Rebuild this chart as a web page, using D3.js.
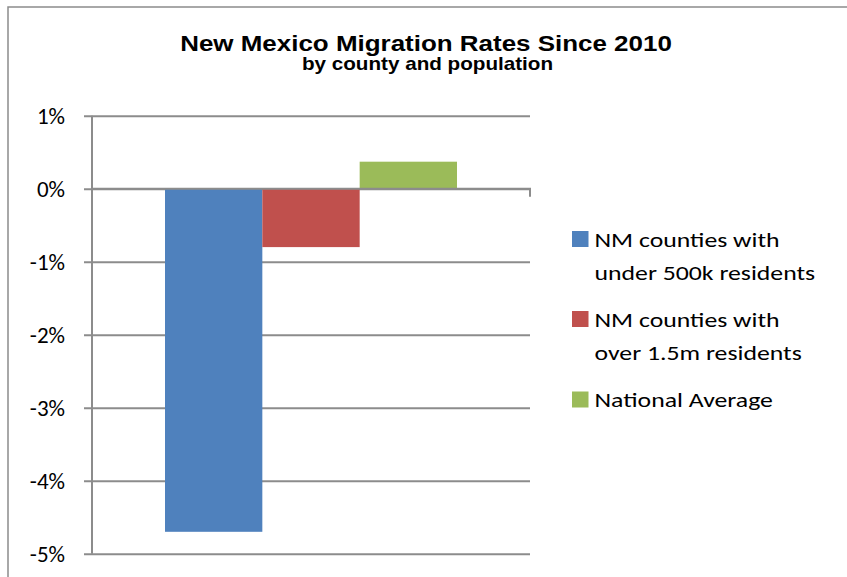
<!DOCTYPE html>
<html>
<head>
<meta charset="utf-8">
<script src="https://cdn.jsdelivr.net/npm/d3@7"></script>
<style>
  html, body { margin: 0; padding: 0; background: #fff; overflow: hidden; }
  svg { display: block; }
</style>
</head>
<body>
<svg id="chart" width="847" height="577"></svg>
<script>
const categories = ["New Mexico"];
const seriesNames = ["NM counties with under 500k residents", "NM counties with over 1.5m residents", "National Average"];
const legendLines = [["NM counties with", "under 500k residents"], ["NM counties with", "over 1.5m residents"], ["National Average"]];
const seriesValues = [-4.7, -0.8, 0.37];
const seriesColors = ["#4f81bd", "#c0504d", "#9bbb59"];
const yTicks = [1, 0, -1, -2, -3, -4, -5];
const titleText = "New Mexico Migration Rates Since 2010";
const subtitleText = "by county and population";

const svg = d3.select("#chart");
const W = 847, H = 577;
const plot = { left: 92, right: 530, top: 115.7, bottom: 553.7 };
const borderColor = "#8c8c8c";
const gridColor = "#8c8c8c";
const bodyFont = "Calibri, Carlito, Lato, sans-serif";
const titleFont = "Arial, 'Liberation Sans', sans-serif";

// outer border (top and left visible; chart area extends past the window)
svg.append("path")
  .attr("d", `M8,${H}V7H${W}`)
  .attr("fill", "none").attr("stroke", borderColor).attr("stroke-width", 1.5);

const y = d3.scaleLinear().domain([-5, 1]).range([plot.bottom, plot.top]);
const x0 = d3.scaleBand().domain(categories).range([plot.left, plot.right]).paddingInner(0).paddingOuter(0);
const x1 = d3.scaleBand().domain(d3.range(seriesValues.length)).range([0, x0.bandwidth()]).paddingInner(0).paddingOuter(0.75);

// gridlines + y axis labels
const yAxis = d3.axisLeft(y).tickValues(yTicks).tickSize(-(plot.right - plot.left)).tickSizeOuter(0).tickPadding(0)
  .tickFormat(d => d + "%");
const gY = svg.append("g").attr("transform", `translate(${plot.left},0)`).call(yAxis);
gY.select(".domain").remove();
gY.selectAll(".tick line").attr("stroke", gridColor).attr("stroke-width", 2).attr("x1", -8);
gY.selectAll(".tick text")
  .attr("x", -27).attr("dy", "0.36em")
  .attr("font-family", bodyFont).attr("font-size", 23).attr("fill", "#000");

// vertical axis line
svg.append("line").attr("x1", plot.left).attr("x2", plot.left).attr("y1", plot.top).attr("y2", plot.bottom)
  .attr("stroke", gridColor).attr("stroke-width", 2);

// bars
const bars = svg.append("g");
categories.forEach(c => {
  bars.selectAll("rect.b").data(seriesValues).enter().append("rect")
    .attr("class", "b")
    .attr("x", (d, i) => x0(c) + x1(i))
    .attr("width", x1.bandwidth())
    .attr("y", d => y(Math.max(0, d)))
    .attr("height", d => Math.abs(y(d) - y(0)))
    .attr("fill", (d, i) => seriesColors[i]);
});

// category axis at zero with end tick
const xAxis = d3.axisBottom(x0).tickValues([]).tickSizeOuter(8);
const gX = svg.append("g").attr("transform", `translate(0,${y(0)})`).call(xAxis);
gX.select(".domain").attr("stroke", gridColor).attr("stroke-width", 2)
  .attr("d", `M${plot.left},0H${plot.right}V8`);

// title (the reference is slightly stretched horizontally)
const stretchTitle = 1.18;
svg.append("text").attr("transform", `translate(426,51) scale(${stretchTitle},1)`).attr("text-anchor", "middle")
  .attr("font-family", titleFont).attr("font-weight", "bold").attr("font-size", 22)
  .attr("fill", "#000")
  .text(titleText);
svg.append("text").attr("transform", `translate(427.5,70) scale(${stretchTitle},1)`).attr("text-anchor", "middle")
  .attr("font-family", titleFont).attr("font-weight", "bold").attr("font-size", 17.5)
  .attr("fill", "#000")
  .text(subtitleText);

// legend
const stretchLegend = 1.21;
const legendTop = [231, 311, 391.5];
const lg = svg.append("g");
legendLines.forEach((lines, i) => {
  lg.append("rect").attr("x", 572).attr("y", legendTop[i]).attr("width", 16.5).attr("height", 16).attr("fill", seriesColors[i]);
  lines.forEach((t, j) => {
    lg.append("text")
      .attr("transform", `translate(594.5,${legendTop[i] + 15.7 + j * 33}) scale(${stretchLegend},1)`)
      .attr("font-family", bodyFont).attr("font-size", 21.3).attr("fill", "#000")
      .text(t);
  });
});
</script>
</body>
</html>
